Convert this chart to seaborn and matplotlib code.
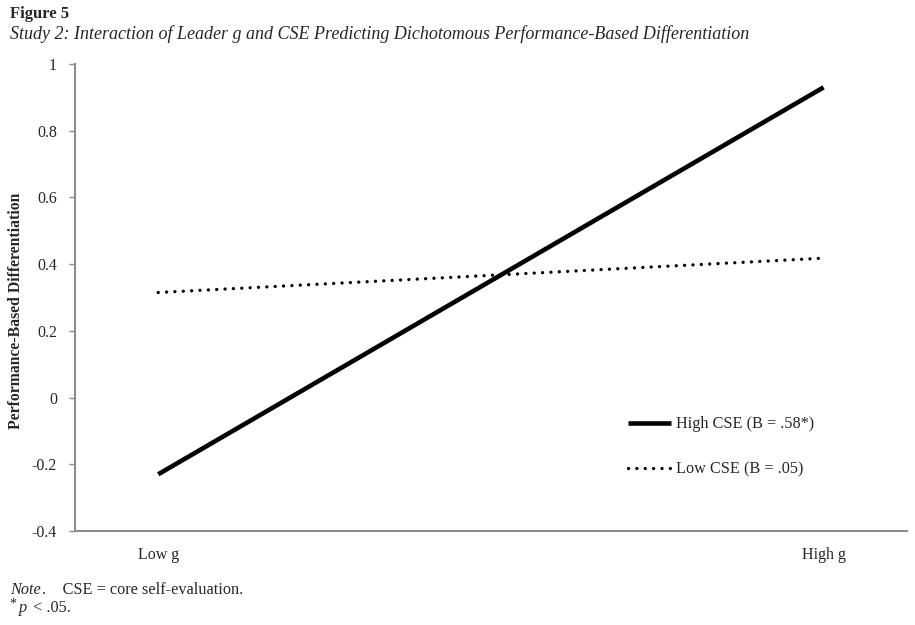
import pandas as pd
import matplotlib.pyplot as plt
import seaborn as sns

# --- DATA ---
g_levels = ["Low g", "High g"]
high_cse = [-0.23, 0.93]
low_cse = [0.315, 0.418]
series_names = ["High CSE (B = .58*)", "Low CSE (B = .05)"]
y_ticks = [1, 0.8, 0.6, 0.4, 0.2, 0, -0.2, -0.4]
y_tick_labels = ["1", "0.8", "0.6", "0.4", "0.2", "0", "-0.2", "-0.4"]

df = pd.DataFrame({
    "g": list(range(len(g_levels))) * 2,
    "value": high_cse + low_cse,
    "series": [series_names[0]] * len(g_levels) + [series_names[1]] * len(g_levels),
})

sns.set_style("white")
plt.rcParams["font.family"] = ["Liberation Serif", "DejaVu Serif"]

fig = plt.figure(figsize=(9.15, 6.25), dpi=100)
ax = fig.add_axes([0.082, 0.1504, 0.909, 0.7472])

sns.lineplot(data=df[df["series"] == series_names[0]], x="g", y="value",
             color="black", linewidth=3.3, ax=ax, label=series_names[0],
             solid_capstyle="butt")
sns.lineplot(data=df[df["series"] == series_names[1]], x="g", y="value",
             color="black", linewidth=2.4, ax=ax, label=series_names[1],
             linestyle=(0, (0.01, 2.5)), dash_capstyle="round")

ax.set_xlim(-0.125, 1.125)
ax.set_ylim(-0.4, 1.0)
ax.set_xticks(range(len(g_levels)))
ax.set_xticklabels(g_levels, fontsize=11.5)
ax.set_yticks(y_ticks)
ax.set_yticklabels(y_tick_labels, fontsize=11.5)
ax.set_xlabel("")
ax.set_ylabel("Performance-Based Differentiation", fontsize=11.3, fontweight="bold")
ax.yaxis.set_label_coords(-0.061, 0.471)

for side in ["top", "right"]:
    ax.spines[side].set_visible(False)
for side in ["left", "bottom"]:
    ax.spines[side].set_color("#8c8c8c")
    ax.spines[side].set_linewidth(1.5)
ax.tick_params(axis="y", left=True, length=4, width=1, color="#8c8c8c", pad=9)
ax.tick_params(axis="x", bottom=False, pad=8)

leg = ax.legend(loc="upper left", bbox_to_anchor=(0.679, 0.344), bbox_transform=fig.transFigure,
                frameon=False, fontsize=11.7, handlelength=2.65, handletextpad=0.3,
                labelspacing=1.8, borderaxespad=0)

fig.text(0.011, 0.978, "Figure 5", fontsize=12, fontweight="bold", va="center")
fig.text(0.011, 0.946, "Study 2: Interaction of Leader g and CSE Predicting Dichotomous Performance-Based Differentiation",
         fontsize=13, style="italic", va="center")

fig.text(0.011, 0.056, "Note", fontsize=11.7, style="italic", va="center")
fig.text(0.046, 0.056, ".    CSE = core self-evaluation.", fontsize=11.7, va="center")
fig.text(0.010, 0.034, "*", fontsize=10, va="center")
fig.text(0.021, 0.028, "p", fontsize=11.7, style="italic", va="center")
fig.text(0.032, 0.028, " < .05.", fontsize=11.7, va="center")

fig.savefig("out.png", dpi=100, facecolor="white")
